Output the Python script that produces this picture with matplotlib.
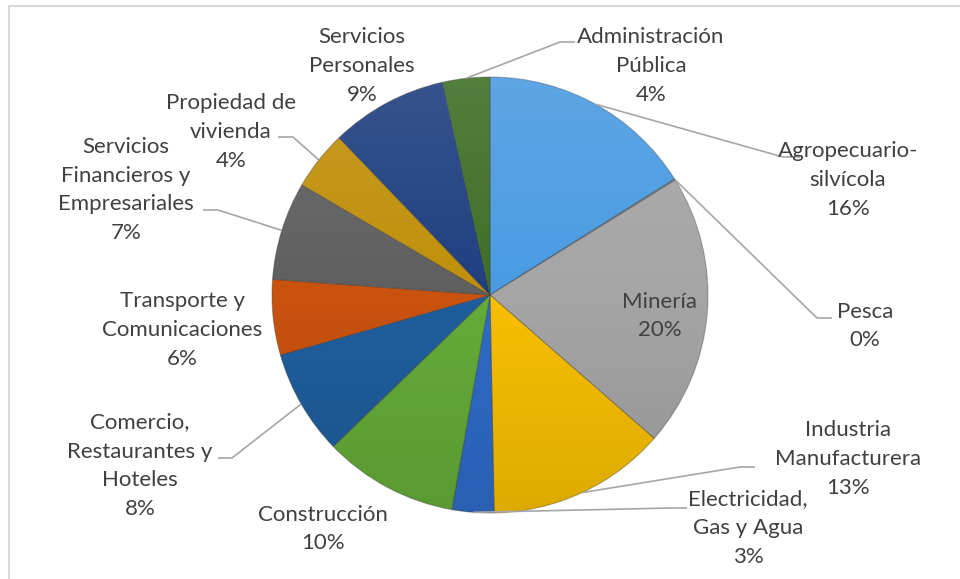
import numpy as np
import matplotlib
matplotlib.use("Agg")
import matplotlib.pyplot as plt
from matplotlib.patches import Circle, Rectangle

plt.rcParams['font.family'] = ['Lato', 'DejaVu Sans']

# sector shares of GDP (percent), clockwise from 12 o'clock
sectors = [
    "Agropecuario-\nsilvícola", "Pesca", "Minería", "Industria\nManufacturera",
    "Electricidad,\nGas y Agua", "Construcción", "Comercio,\nRestaurantes y\nHoteles",
    "Transporte y\nComunicaciones", "Servicios\nFinancieros y\nEmpresariales",
    "Propiedad de\nvivienda", "Servicios\nPersonales", "Administración\nPública",
]
shares = [16.1, 0.1, 20.3, 13.3, 3.1, 10.0, 7.8, 5.6, 7.3, 4.4, 8.7, 3.5]
colors = ["#4A9BE2", "#7F7F7F", "#A5A5A5", "#F8BF00", "#2F6BC8", "#64AC38",
          "#1F5E9E", "#C9520F", "#5F5F5F", "#C0900A", "#1F3F7F", "#3E6F26"]

# label layout in pixel coords (x, y from top): text centre, leader elbow x/y, leader end x
label_pos = [(848, 180), (865, 326), (660, 316), (848, 459), (748, 528), (323, 529),
             (140, 466), (182, 330), (126, 190), (231, 132), (362, 66), (651, 66)]
leaders = [(783, 157, 800), (817, 318, 832), None, (740, 467, 755), (672, 508, 687), None,
           (232, 458, 218), None, (218, 210, 203), (293, 137, 278), None, (560, 42, 575)]

W, H = 960, 579
fig = plt.figure(figsize=(W / 100, H / 100), dpi=100)
ax = fig.add_axes([0, 0, 1, 1])


def py(y):
    return H - y


cx, cy, r = 490, py(295), 218

wedges, _ = ax.pie(shares, colors=colors, startangle=90, counterclock=False,
                   center=(cx, cy), radius=r, frame=True,
                   wedgeprops=dict(edgecolor=(0.2, 0.2, 0.2, 0.35), linewidth=0.8))
ax.set_xlim(0, W)
ax.set_ylim(0, H)
ax.axis('off')

# chart frame
ax.add_patch(Rectangle((9, -5), W, py(6) + 5, fill=False, edgecolor="#D9D9D9", linewidth=1.5))

# soft top-to-bottom shading to mimic the bevel look
grad = np.linspace(1, 0, 256).reshape(-1, 1)
shade = np.zeros((256, 1, 4))
shade[..., :3] = np.where(grad > 0.5, 1.0, 0.0)[..., None]
shade[..., 3] = np.abs(grad - 0.5) * 0.22
im = ax.imshow(shade, extent=(cx - r, cx + r, cy - r, cy + r), aspect='auto', zorder=3,
               interpolation='bilinear')
im.set_clip_path(Circle((cx, cy), r, transform=ax.transData))
ax.set_xlim(0, W)
ax.set_ylim(0, H)

for w, name, v, pos, ld in zip(wedges, sectors, shares, label_pos, leaders):
    txt = f"{name}\n{round(v)}%"
    ax.text(pos[0], py(pos[1]), txt, ha='center', va='center', fontsize=16,
            color="#404040", linespacing=1.56, zorder=5)
    if ld is not None:
        mid = np.deg2rad((w.theta1 + w.theta2) / 2)
        ax_x, ax_y = cx + r * np.cos(mid), cy + r * np.sin(mid)
        ex, ey, endx = ld
        ax.plot([ax_x, ex, endx], [ax_y, py(ey), py(ey)], color="#A6A6A6", lw=1.2,
                zorder=4, solid_capstyle='butt')

fig.savefig("out.png", dpi=100)
